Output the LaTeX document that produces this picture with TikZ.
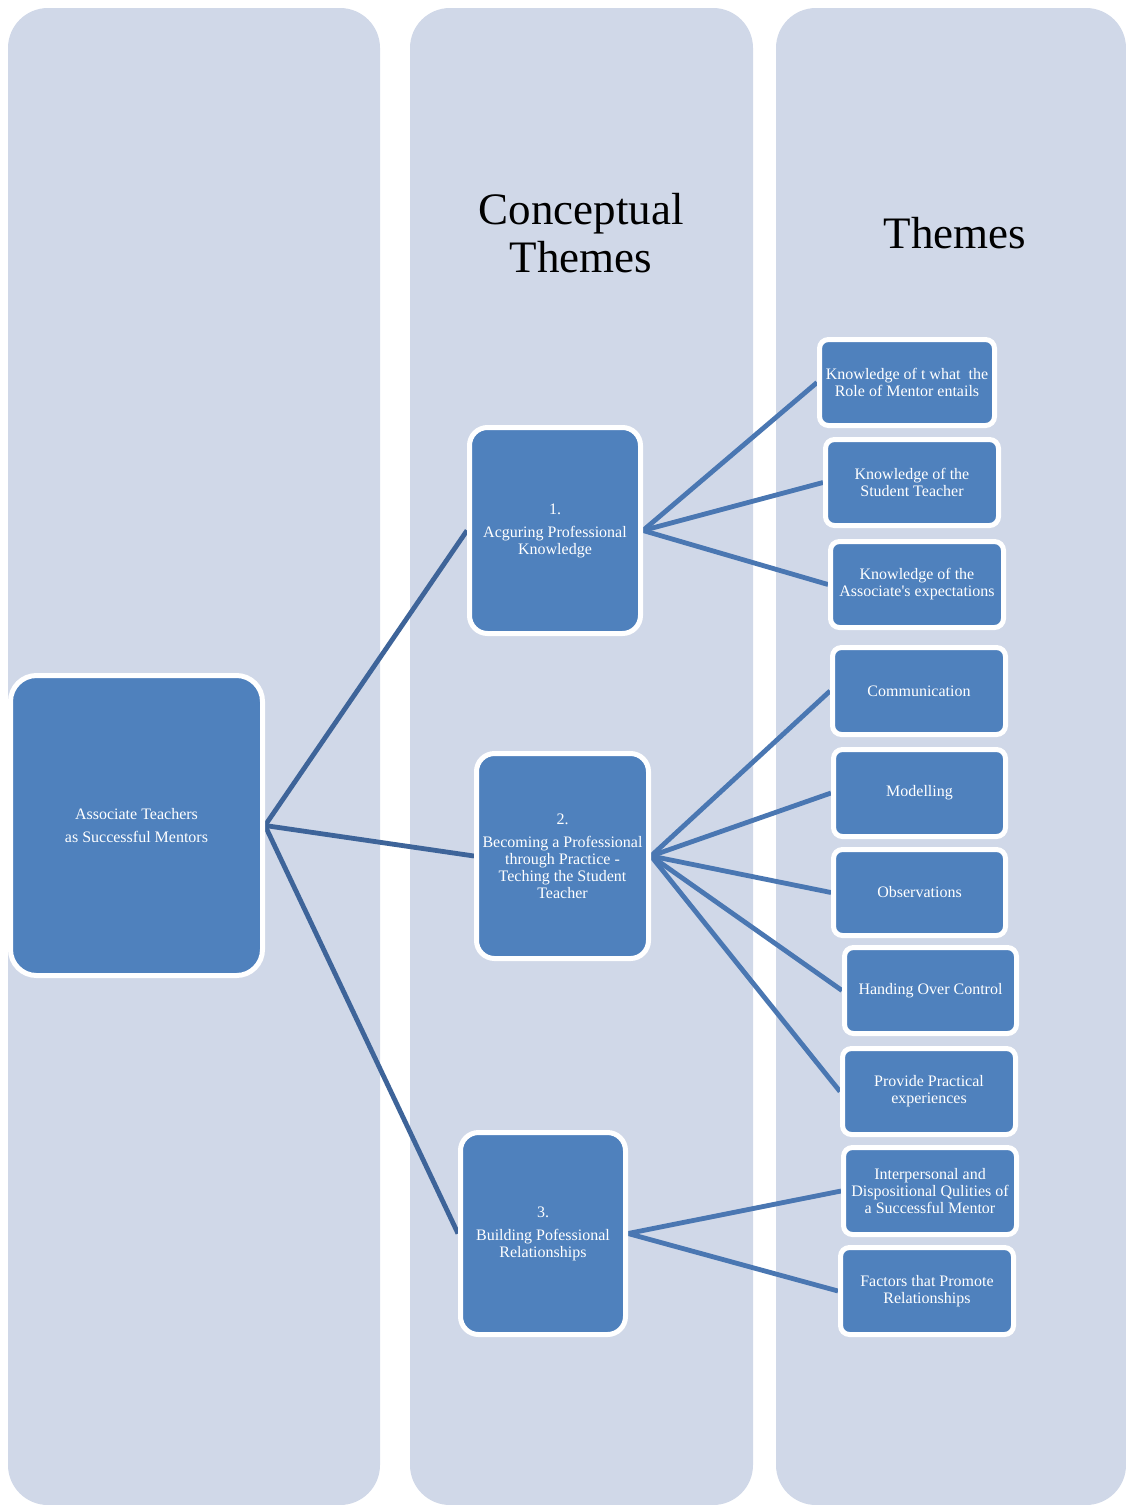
\documentclass[tikz,border=0pt]{standalone}
\usepackage{fontspec}
\setmainfont{Liberation Serif}
\pgfdeclarelayer{background}
\pgfsetlayers{background,main}
\definecolor{colbg}{HTML}{D0D8E8}
\definecolor{boxfill}{HTML}{4F81BD}
\definecolor{linkdark}{HTML}{3E6499}
\definecolor{linklight}{HTML}{4A77B2}
\tikzset{
  column/.style={fill=colbg, draw=none, rounded corners=40pt},
  bigbox/.style={fill=boxfill, draw=white, line width=5pt, rounded corners=18pt,
     text=white, align=center, inner sep=0pt,
     font=\fontsize{16}{17}\selectfont},
  rootbox/.style={bigbox, rounded corners=26pt},
  smallbox/.style={fill=boxfill, draw=white, line width=5pt, rounded corners=9pt,
     text=white, align=center, inner sep=0pt,
     font=\fontsize{16}{17}\selectfont},
  title/.style={align=center, text=black, font=\fontsize{45}{48}\selectfont},
  rootlink/.style={draw=linkdark, line width=4.8pt},
  themelink/.style={draw=linklight, line width=4.8pt}
}
\begin{document}
\begin{tikzpicture}[x=1pt, y=-1pt]
\useasboundingbox (0,0) rectangle (1126,1505);

% nodes
\node[rootbox, minimum width=252pt, minimum height=300pt] (root) at (136.5,825.5)
  {Associate Teachers\\[6pt]as Successful Mentors};
\node[bigbox, minimum width=171pt, minimum height=206pt] (c1) at (555,530.5)
  {1.\\[6pt]Acguring Professional\\Knowledge};
\node[bigbox, minimum width=172pt, minimum height=205pt] (c2) at (562.5,856)
  {2.\\[6pt]Becoming a Professional\\through Practice -\\Teching the Student\\Teacher};
\node[bigbox, minimum width=165pt, minimum height=202pt] (c3) at (543,1233.5)
  {3.\\[6pt]Building Pofessional\\Relationships};

\node[smallbox, minimum width=175pt, minimum height=86pt] (k1) at (907,382.5)
  {Knowledge of t what\ \ the\\Role of Mentor entails};
\node[smallbox, minimum width=173pt, minimum height=86pt] (k2) at (912,482.5)
  {Knowledge of the\\Student Teacher};
\node[smallbox, minimum width=173pt, minimum height=86pt] (k3) at (917,584.5)
  {Knowledge of the\\Associate\textquotesingle s expectations};
\node[smallbox, minimum width=173pt, minimum height=87pt] (p1) at (919,691)
  {Communication};
\node[smallbox, minimum width=172pt, minimum height=87pt] (p2) at (919.5,793)
  {Modelling};
\node[smallbox, minimum width=172pt, minimum height=86pt] (p3) at (919.5,892.5)
  {Observations};
\node[smallbox, minimum width=172pt, minimum height=86pt] (p4) at (930.5,990.5)
  {Handing Over Control};
\node[smallbox, minimum width=173pt, minimum height=86pt] (p5) at (929,1091.5)
  {Provide Practical\\experiences};
\node[smallbox, minimum width=173pt, minimum height=87pt] (r1) at (930,1191)
  {Interpersonal and\\Dispositional Qulities of\\a Successful Mentor};
\node[smallbox, minimum width=173pt, minimum height=87pt] (r2) at (927,1291)
  {Factors that Promote\\Relationships};

\node[title] (t1) at (581,233) {Conceptual\\Themes};
\node[title] (t2) at (955,233) {Themes};

\begin{pgfonlayer}{background}
  \fill[white] (0,0) rectangle (1126,1505);
  \fill[column] (8,8) rectangle (380,1505);
  \fill[column] (410,8) rectangle (753,1505);
  \fill[column] (776,8) rectangle (1126,1505);
  \draw[rootlink] (root.east) -- (c1.west);
  \draw[rootlink] (root.east) -- (c2.west);
  \draw[rootlink] (root.east) -- (c3.west);
  \draw[themelink] (c1.east) -- (k1.west);
  \draw[themelink] (c1.east) -- (k2.west);
  \draw[themelink] (c1.east) -- (k3.west);
  \draw[themelink] (c2.east) -- (p1.west);
  \draw[themelink] (c2.east) -- (p2.west);
  \draw[themelink] (c2.east) -- (p3.west);
  \draw[themelink] (c2.east) -- (p4.west);
  \draw[themelink] (c2.east) -- (p5.west);
  \draw[themelink] (c3.east) -- (r1.west);
  \draw[themelink] (c3.east) -- (r2.west);
\end{pgfonlayer}
\end{tikzpicture}
\end{document}
